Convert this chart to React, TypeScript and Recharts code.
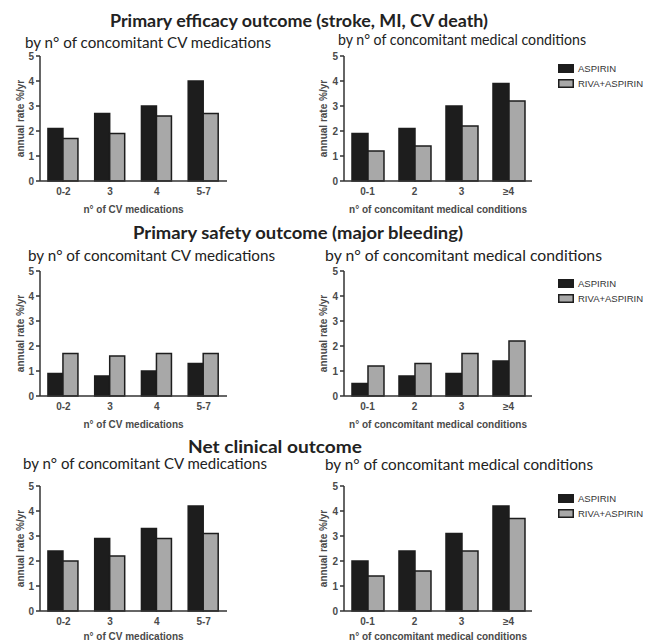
import { Bar, BarChart, Legend, XAxis, YAxis } from 'recharts'

const cvCategories = ['0-2', '3', '4', '5-7']
const conditionCategories = ['0-1', '2', '3', '≥4']
const yTicks = [0, 1, 2, 3, 4, 5]

// primary efficacy outcome
const efficacyCvAspirin = [2.1, 2.7, 3.0, 4.0]
const efficacyCvRiva = [1.7, 1.9, 2.6, 2.7]
const efficacyCondAspirin = [1.9, 2.1, 3.0, 3.9]
const efficacyCondRiva = [1.2, 1.4, 2.2, 3.2]

// primary safety outcome
const safetyCvAspirin = [0.9, 0.8, 1.0, 1.3]
const safetyCvRiva = [1.7, 1.6, 1.7, 1.7]
const safetyCondAspirin = [0.5, 0.8, 0.9, 1.4]
const safetyCondRiva = [1.2, 1.3, 1.7, 2.2]

// net clinical outcome
const netCvAspirin = [2.4, 2.9, 3.3, 4.2]
const netCvRiva = [2.0, 2.2, 2.9, 3.1]
const netCondAspirin = [2.0, 2.4, 3.1, 4.2]
const netCondRiva = [1.4, 1.6, 2.4, 3.7]

const BLACK = '#1d1d1d'
const GREY = '#a8a8a8'
const AXIS = '#333'
const axisFont = { fontFamily: 'Liberation Sans, Arial, sans-serif', fontSize: 10, fontWeight: 700, fill: '#4a4a4a' }

function buildRows(cats: string[], aspirin: number[], riva: number[]) {
  return cats.map((c, i) => ({ cat: c, aspirin: aspirin[i], riva: riva[i] }))
}

function LegendBox(props: any) {
  const items = props.payload || []
  return (
    <div style={{ fontFamily: 'Liberation Sans, Arial, sans-serif', fontSize: 9.5, color: '#333', textAlign: 'left' }}>
      {items.map((it: any) => (
        <div key={it.value} style={{ display: 'flex', alignItems: 'center', height: 15, whiteSpace: 'nowrap' }}>
          <svg width={16} height={9} style={{ marginRight: 4 }}>
            <rect x={0.75} y={0.75} width={14.5} height={7.5} fill={it.color} stroke={BLACK} strokeWidth={1.5} />
          </svg>
          <span>{it.value}</span>
        </div>
      ))}
    </div>
  )
}

interface PanelProps {
  left: number
  top: number
  right?: boolean
  cats: string[]
  aspirin: number[]
  riva: number[]
  xLabel: string
  labelOffset?: number
}

function Panel({ left, top, right, cats, aspirin, riva, xLabel, labelOffset = 0 }: PanelProps) {
  const width = right ? 348 : 240
  const yWidth = right ? 44 : 40
  const marginRight = right ? 116 : 13
  return (
    <div style={{ position: 'absolute', left, top }}>
      <BarChart
        width={width}
        height={167}
        data={buildRows(cats, aspirin, riva)}
        margin={{ top: 6, right: marginRight, left: 0, bottom: 4 }}
        barCategoryGap="17%"
        barGap={0}
      >
        <XAxis
          dataKey="cat"
          height={32}
          tickLine={false}
          tickSize={5}
          axisLine={{ stroke: AXIS, strokeWidth: 1.5 }}
          tick={axisFont}
          label={{ value: xLabel, position: 'insideBottom', offset: labelOffset, style: axisFont }}
        />
        <YAxis
          width={yWidth}
          domain={[0, 5]}
          ticks={yTicks}
          tickSize={4}
          tickMargin={2}
          axisLine={{ stroke: AXIS, strokeWidth: 1.5 }}
          tickLine={{ stroke: AXIS, strokeWidth: 1.5 }}
          tick={axisFont}
          label={{
            value: 'annual rate %/yr',
            angle: -90,
            position: 'insideLeft',
            offset: right ? 23 : 20,
            style: { ...axisFont, textAnchor: 'middle' },
          }}
        />
        {right && (
          <Legend
            layout="vertical"
            verticalAlign="middle"
            align="center"
            content={LegendBox}
            wrapperStyle={{ top: 11, left: 258, width: 120, height: 30 }}
          />
        )}
        <Bar dataKey="aspirin" name="ASPIRIN" fill={BLACK} stroke={BLACK} strokeWidth={1.5} isAnimationActive={false} />
        <Bar dataKey="riva" name="RIVA+ASPIRIN" fill={GREY} stroke={BLACK} strokeWidth={1.5} isAnimationActive={false} />
      </BarChart>
    </div>
  )
}

const titleFont = { fontFamily: 'Lato, Open Sans, sans-serif', fill: '#222' }

export default function App() {
  return (
    <div style={{ position: 'absolute', left: 0, top: 0, width: 648, height: 642, background: '#fff', overflow: 'hidden' }}>
      <svg width={648} height={642} style={{ position: 'absolute', left: 0, top: 0 }}>
        <text x={110} y={27} fontSize={16.5} fontWeight={700} textLength={378} lengthAdjust="spacingAndGlyphs" {...titleFont}>
          Primary efficacy outcome (stroke, MI, CV death)
        </text>
        <text x={25} y={47.5} fontSize={15} textLength={246} lengthAdjust="spacingAndGlyphs" {...titleFont}>
          by n° of concomitant CV medications
        </text>
        <text x={338} y={45} fontSize={15} textLength={248} lengthAdjust="spacingAndGlyphs" {...titleFont}>
          by n° of concomitant medical conditions
        </text>

        <text x={133} y={238.5} fontSize={16.5} fontWeight={700} textLength={330} lengthAdjust="spacingAndGlyphs" {...titleFont}>
          Primary safety outcome (major bleeding)
        </text>
        <text x={28} y={260.5} fontSize={15} textLength={247} lengthAdjust="spacingAndGlyphs" {...titleFont}>
          by n° of concomitant CV medications
        </text>
        <text x={325} y={260.5} fontSize={16} textLength={277} lengthAdjust="spacingAndGlyphs" {...titleFont}>
          by n° of concomitant medical conditions
        </text>

        <text x={188} y={453} fontSize={16.5} fontWeight={700} textLength={174} lengthAdjust="spacingAndGlyphs" {...titleFont}>
          Net clinical outcome
        </text>
        <text x={23} y={469} fontSize={15} textLength={244} lengthAdjust="spacingAndGlyphs" {...titleFont}>
          by n° of concomitant CV medications
        </text>
        <text x={325} y={469.5} fontSize={15.5} textLength={268} lengthAdjust="spacingAndGlyphs" {...titleFont}>
          by n° of concomitant medical conditions
        </text>
      </svg>

      <Panel left={0} top={50} cats={cvCategories} aspirin={efficacyCvAspirin} riva={efficacyCvRiva} xLabel="n° of CV medications" />
      <Panel left={300} top={50} right cats={conditionCategories} aspirin={efficacyCondAspirin} riva={efficacyCondRiva} xLabel="n° of concomitant medical conditions" />

      <Panel left={0} top={265} cats={cvCategories} aspirin={safetyCvAspirin} riva={safetyCvRiva} xLabel="n° of CV medications" />
      <Panel left={300} top={265} right cats={conditionCategories} aspirin={safetyCondAspirin} riva={safetyCondRiva} xLabel="n° of concomitant medical conditions" />

      <Panel left={0} top={480} labelOffset={3} cats={cvCategories} aspirin={netCvAspirin} riva={netCvRiva} xLabel="n° of CV medications" />
      <Panel left={300} top={480} right labelOffset={3} cats={conditionCategories} aspirin={netCondAspirin} riva={netCondRiva} xLabel="n° of concomitant medical conditions" />
    </div>
  )
}
